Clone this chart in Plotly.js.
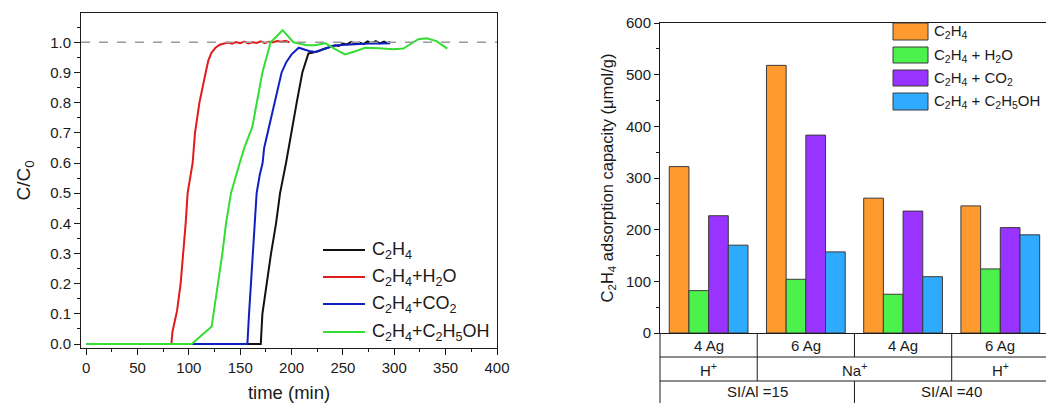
<!DOCTYPE html>
<html>
<head>
<meta charset="utf-8">
<script src="https://cdn.plot.ly/plotly-3.0.1.min.js"></script>
<style>html,body{margin:0;padding:0;background:#fff;}#chart{width:1046px;height:403px;}</style>
</head>
<body>
<div id="chart"></div>
<script>
// ---------- Left panel: breakthrough curves ----------
const seriesNames = ['C<sub>2</sub>H<sub>4</sub>', 'C<sub>2</sub>H<sub>4</sub>+H<sub>2</sub>O', 'C<sub>2</sub>H<sub>4</sub>+CO<sub>2</sub>', 'C<sub>2</sub>H<sub>4</sub>+C<sub>2</sub>H<sub>5</sub>OH'];

const tC2H4 = [0, 170, 171.6, 175.7, 180, 184.9, 188.8, 194.6, 199.5, 205, 210.5, 216.4, 221, 226, 230, 234, 238, 242, 246, 250, 254, 258, 262, 266, 270, 274, 278, 282, 286, 290, 293, 296];
const vC2H4 = [0, 0, 0.1, 0.2, 0.3, 0.4, 0.5, 0.6, 0.7, 0.8, 0.9, 0.963, 0.966, 0.97, 0.976, 0.98, 0.986, 0.99, 0.988, 0.996, 0.993, 1.001, 0.995, 0.999, 0.994, 1.003, 0.997, 1.004, 0.996, 1.002, 0.997, 1.001];

const tH2O = [0, 83, 84, 86, 87, 88.5, 92, 94.6, 96.9, 98.8, 103.7, 106, 110.3, 116.4, 119, 122, 126, 130, 134, 138, 142, 146, 150, 154, 158, 162, 166, 170, 174, 178, 182, 186, 190, 194, 198];
const vH2O = [0, 0, 0.04, 0.07, 0.08, 0.11, 0.2, 0.3, 0.4, 0.5, 0.6, 0.7, 0.8, 0.9, 0.94, 0.965, 0.982, 0.992, 0.996, 0.999, 0.995, 1.001, 0.997, 1.002, 0.996, 1.0, 0.998, 1.003, 0.997, 1.002, 1.0, 1.004, 1.002, 1.005, 1.0];

const tCO2 = [0, 157, 158.6, 162.3, 166, 169, 171.8, 173.3, 182, 190.3, 195, 200, 207, 212, 217, 223, 228, 234, 239, 244, 250, 256, 262, 268, 274, 280, 286, 292, 296];
const vCO2 = [0, 0, 0.1, 0.3, 0.5, 0.56, 0.6, 0.65, 0.78, 0.9, 0.935, 0.96, 0.982, 0.977, 0.971, 0.968, 0.974, 0.982, 0.986, 0.99, 0.991, 0.994, 0.993, 0.996, 0.995, 0.997, 0.996, 0.998, 0.997];

const tEtOH = [0, 102.8, 122.2, 128.7, 132.6, 136.2, 141, 149.5, 154, 161.8, 166, 171.6, 179.6, 191.3, 201.8, 214.7, 223, 232.6, 242, 252, 262, 271.5, 285, 299, 308.8, 316, 323.4, 331.5, 341, 351.6];
const vEtOH = [0, 0, 0.058, 0.2, 0.3, 0.4, 0.5, 0.6, 0.65, 0.72, 0.8, 0.9, 1.0, 1.04, 1.0, 0.99, 0.99, 0.997, 0.978, 0.96, 0.97, 0.982, 0.98, 0.977, 0.979, 0.995, 1.01, 1.013, 1.004, 0.979];

const lineColors = ['#111111', '#E01B1B', '#1020C0', '#33DD33'];

// ---------- Right panel: adsorption capacity ----------
const barNames = ['C<sub>2</sub>H<sub>4</sub>', 'C<sub>2</sub>H<sub>4</sub> + H<sub>2</sub>O', 'C<sub>2</sub>H<sub>4</sub> + CO<sub>2</sub>', 'C<sub>2</sub>H<sub>4</sub> + C<sub>2</sub>H<sub>5</sub>OH'];
const samples = [0, 1, 2, 3];
const capC2H4 = [322, 518, 261, 246];
const capH2O = [82, 104, 75, 124];
const capCO2 = [227, 383, 236, 204];
const capEtOH = [170, 157, 109, 190];
const barColors = ['#FF9A2E', '#4CF24C', '#9933FF', '#2EAAFF'];

const rowAg = ['4 Ag', '6 Ag', '4 Ag', '6 Ag'];
const rowCation = ['H<sup>+</sup>', 'Na<sup>+</sup>', 'H<sup>+</sup>'];
const rowCationSpan = [1, 2, 1];
const rowRatio = ['SI/Al =15', 'SI/Al =40'];
const rowRatioSpan = [2, 2];

// ---------- layout helpers ----------
const W = 1046, H = 403;
const px = x => x / W;
const py = y => 1 - y / H;
const FONT = 'Liberation Sans, Arial, sans-serif';
const TXT = '#1a1a1a';

const X2RANGE = [-0.5, 3.47];
const x2frac = v => (v - X2RANGE[0]) / (X2RANGE[1] - X2RANGE[0]);

const lineData = [[tC2H4, vC2H4], [tH2O, vH2O], [tCO2, vCO2], [tEtOH, vEtOH]];
const traces = [];
lineData.forEach((d, i) => {
  traces.push({
    x: d[0], y: d[1], type: 'scatter', mode: 'lines', name: seriesNames[i],
    line: {color: lineColors[i], width: 2}, xaxis: 'x', yaxis: 'y', showlegend: false
  });
});
const barData = [capC2H4, capH2O, capCO2, capEtOH];
barData.forEach((d, i) => {
  traces.push({
    x: samples, y: d, type: 'bar', name: barNames[i],
    marker: {color: barColors[i], line: {color: '#3a3a3a', width: 1}},
    xaxis: 'x2', yaxis: 'y2', showlegend: false
  });
});

const shapes = [];
const annotations = [];

// dashed reference line at C/C0 = 1
shapes.push({type: 'line', xref: 'x domain', yref: 'y', x0: 0, x1: 1, y0: 1, y1: 1,
  line: {color: '#9a9a9a', width: 1.5, dash: 'dash'}});

// left legend
const legY = [250, 277, 304, 332];
seriesNames.forEach((n, i) => {
  shapes.push({type: 'line', xref: 'paper', yref: 'paper', x0: px(323), x1: px(365), y0: py(legY[i]), y1: py(legY[i]),
    line: {color: lineColors[i], width: 2}});
  annotations.push({xref: 'paper', yref: 'paper', x: px(370), y: py(legY[i]), xanchor: 'left', yanchor: 'middle',
    text: n, showarrow: false, font: {family: FONT, size: 18, color: TXT}});
});

// right legend
const legY2 = [[23, 40], [47, 63], [70, 86], [93, 110]];
barNames.forEach((n, i) => {
  shapes.push({type: 'rect', xref: 'paper', yref: 'paper', x0: px(893), x1: px(928), y0: py(legY2[i][0]), y1: py(legY2[i][1]),
    fillcolor: barColors[i], line: {color: '#3a3a3a', width: 1}});
  annotations.push({xref: 'paper', yref: 'paper', x: px(932), y: py((legY2[i][0] + legY2[i][1]) / 2), xanchor: 'left', yanchor: 'middle',
    text: n, showarrow: false, font: {family: FONT, size: 15, color: TXT}});
});

// table under bars
const tb = [333, 357, 381, 403];
const tline = {color: '#1a1a1a', width: 1};
[tb[1], tb[2]].forEach(y => shapes.push({type: 'line', xref: 'paper', yref: 'paper', x0: px(660), x1: 1, y0: py(y), y1: py(y), line: tline}));
shapes.push({type: 'line', xref: 'paper', yref: 'paper', x0: px(660), x1: px(660), y0: py(tb[0]), y1: 0, line: tline});
function tableRow(labels, spans, r) {
  let start = 0;
  labels.forEach((lab, i) => {
    const end = start + spans[i];
    const center = (start + end - 1) / 2;
    annotations.push({xref: 'x2', yref: 'paper', x: center, y: py((tb[r] + tb[r + 1]) / 2 + (r === 2 ? -1 : 0)),
      xanchor: 'center', yanchor: 'middle', text: lab, showarrow: false, font: {family: FONT, size: 15, color: TXT}});
    if (end < samples.length) {
      shapes.push({type: 'line', xref: 'x2 domain', yref: 'paper', x0: x2frac(end - 0.5), x1: x2frac(end - 0.5),
        y0: py(tb[r]), y1: py(tb[r + 1]), line: tline});
    }
    start = end;
  });
}
tableRow(rowAg, [1, 1, 1, 1], 0);
tableRow(rowCation, rowCationSpan, 1);
tableRow(rowRatio, rowRatioSpan, 2);

const axFont = {family: FONT, size: 15, color: TXT};
const layout = {
  width: W, height: H,
  margin: {l: 0, r: 0, t: 0, b: 0},
  paper_bgcolor: '#ffffff', plot_bgcolor: '#ffffff',
  font: {family: FONT, color: TXT},
  showlegend: false,
  barmode: 'group', bargap: 0.19, bargroupgap: 0,
  xaxis: {
    domain: [px(81), px(497)], anchor: 'y', range: [-5, 400],
    tick0: 0, dtick: 50, ticks: 'outside', ticklen: 6, tickwidth: 1, tickcolor: '#1a1a1a',
    minor: {ticks: 'outside', ticklen: 3, dtick: 25, tickcolor: '#1a1a1a'},
    showline: true, mirror: true, linecolor: '#1a1a1a', linewidth: 1,
    showgrid: false, zeroline: false, tickfont: axFont,
    title: {text: 'time (min)', font: {family: FONT, size: 18.5, color: TXT}, standoff: 11}
  },
  yaxis: {
    domain: [py(348), py(13)], anchor: 'x', range: [-0.013, 1.097],
    tick0: 0, dtick: 0.1, tickformat: '.1f', ticks: 'outside', ticklen: 6, tickwidth: 1, tickcolor: '#1a1a1a',
    minor: {ticks: 'outside', ticklen: 3, dtick: 0.05, tickcolor: '#1a1a1a'},
    showline: true, mirror: true, linecolor: '#1a1a1a', linewidth: 1,
    showgrid: false, zeroline: false, tickfont: axFont,
    title: {text: 'C/C<sub>0</sub>', font: {family: FONT, size: 19, color: TXT}, standoff: 14}
  },
  xaxis2: {
    domain: [px(660), 1], anchor: 'y2', range: X2RANGE, type: 'linear',
    showticklabels: false, ticks: '', showline: true, mirror: true, linecolor: '#1a1a1a', linewidth: 1,
    showgrid: false, zeroline: false
  },
  yaxis2: {
    domain: [py(333), py(23)], anchor: 'x2', range: [0, 600],
    tick0: 0, dtick: 100, ticks: 'outside', ticklen: 5, tickwidth: 1, tickcolor: '#1a1a1a',
    minor: {ticks: 'outside', ticklen: 3, dtick: 50, tickcolor: '#1a1a1a'},
    showline: true, linecolor: '#1a1a1a', linewidth: 1,
    showgrid: false, zeroline: false, tickfont: {family: FONT, size: 15, color: TXT},
    title: {text: 'C<sub>2</sub>H<sub>4</sub> adsorption capacity (\u03bcmol/g)', font: {family: FONT, size: 16.5, color: TXT}, standoff: 8}
  },
  shapes: shapes,
  annotations: annotations
};

Plotly.newPlot('chart', traces, layout, {displayModeBar: false, staticPlot: true});
</script>
</body>
</html>
